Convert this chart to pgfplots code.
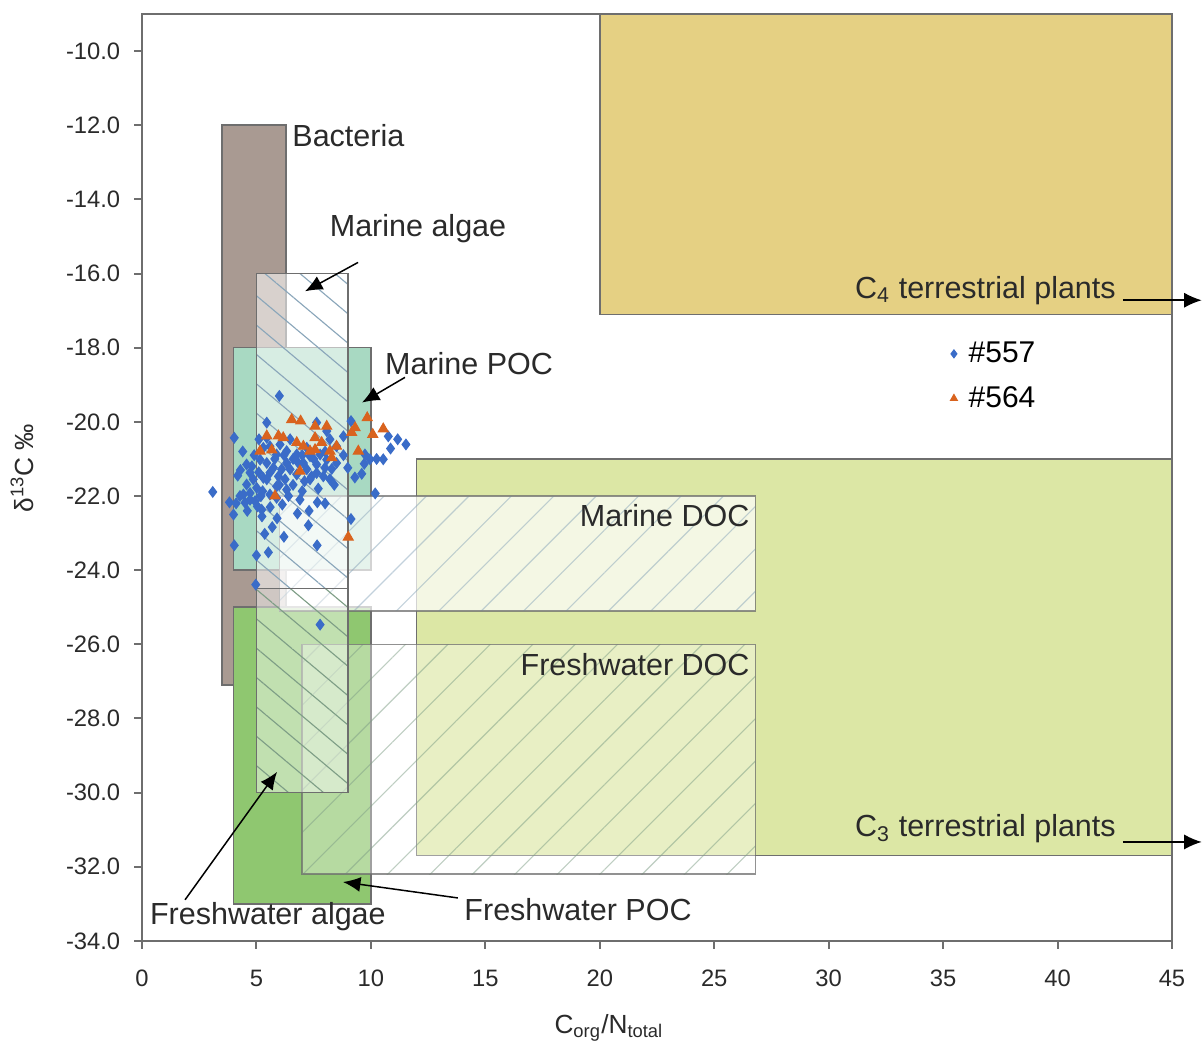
\documentclass[border=0pt]{standalone}
\usepackage{fontspec}
\setmainfont{Liberation Sans}
\usepackage{pgfplots}
\pgfplotsset{compat=1.18}
\usetikzlibrary{patterns.meta,arrows.meta}

\definecolor{cfour}{HTML}{E5D083}
\definecolor{cthree}{HTML}{DCE7A5}
\definecolor{bact}{HTML}{A99A92}
\definecolor{mpoc}{HTML}{A8D9C2}
\definecolor{fpoc}{HTML}{8FC770}
\definecolor{hatchblue}{HTML}{8AA6BA}
\definecolor{hatchgreen}{HTML}{7E9E86}
\definecolor{bluept}{HTML}{3A6CC8}
\definecolor{orangept}{HTML}{D9631E}
\definecolor{edge}{HTML}{6E6E6E}
\definecolor{txt}{HTML}{2A2A2A}

\pgfplotsset{box/.style={draw=edge, line width=0.6pt, forget plot}}
\tikzset{
  lab/.style={font=\fontsize{12.2}{14}\selectfont, text=txt, inner sep=0pt},
  pointer/.style={draw=black, line width=0.6pt, -{Latex[length=7pt,width=6pt]}},
}

\begin{document}
\begin{tikzpicture}
\begin{axis}[
  scale only axis, width=412pt, height=370.8pt,
  xmin=0, xmax=45, ymin=-34, ymax=-9,
  xtick={0,5,...,45}, ytick={-34,-32,...,-10},
  yticklabel style={xshift=-2pt, /pgf/number format/.cd, fixed, fixed zerofill, precision=1},
  /pgf/number format/assume math mode=true,
  tick align=outside, xtick pos=bottom, ytick pos=left,
  major tick length=3.2pt,
  tick style={draw=edge, line width=0.8pt},
  axis line style={draw=edge, line width=1.1pt},
  ticklabel style={font=\fontsize{9.5}{11}\selectfont, text=txt},
  xticklabel style={yshift=-5pt},
  xlabel={C\textsubscript{org}/N\textsubscript{total}},
  ylabel={δ\textsuperscript{13}C ‰},
  xlabel style={font=\fontsize{10.5}{12}\selectfont, text=txt, at={(rel axis cs:0.4534,-0.0939)}, anchor=center},
  ylabel style={font=\fontsize{10.5}{12}\selectfont, text=txt, at={(rel axis cs:-0.1165,0.51)}, anchor=center},
  clip=false,
  legend style={at={(axis cs:35.3,-17.69)}, anchor=north west, draw=none, fill=none,
    font=\fontsize{12}{14}\selectfont, row sep=4pt, column sep=2.5pt, inner sep=0pt},
  legend cell align=left,
  legend image post style={mark size=1.6pt},
]
% overall extent of the figure
\path (rel axis cs:-0.1379,-0.1133) rectangle (rel axis cs:1.0311,1.0151);

% terrestrial plants
\addplot[box, fill=cfour] coordinates {(20,-17.1) (45,-17.1) (45,-9) (20,-9)} -- cycle;
\addplot[box, fill=cthree] coordinates {(12,-31.7) (45,-31.7) (45,-21) (12,-21)} -- cycle;

% bacteria
\addplot[box, fill=bact] coordinates {(3.5,-27.1) (6.3,-27.1) (6.3,-12) (3.5,-12)} -- cycle;

% particulate organic carbon
\addplot[box, fill=mpoc] coordinates {(4,-24) (10,-24) (10,-18) (4,-18)} -- cycle;
\addplot[box, fill=fpoc] coordinates {(4,-33) (10,-33) (10,-25) (4,-25)} -- cycle;

% dissolved organic carbon
\addplot[box, draw opacity=0.5, fill=white, fill opacity=0.35,
  postaction={fill opacity=0.8, pattern={Lines[angle=45,distance=12pt,line width=0.45pt]}, pattern color=hatchgreen}]
  coordinates {(7,-32.2) (26.8,-32.2) (26.8,-26) (7,-26)} -- cycle;
\addplot[box, draw opacity=0.5, fill=white, fill opacity=0.7,
  postaction={fill opacity=0.8, pattern={Lines[angle=45,distance=12pt,line width=0.45pt]}, pattern color=hatchblue}]
  coordinates {(6,-25.1) (26.8,-25.1) (26.8,-22) (6,-22)} -- cycle;

% algae
\addplot[box, fill=white, fill opacity=0.55,
  postaction={fill opacity=0.8, pattern={Lines[angle=-40,distance=9pt,line width=0.45pt]}, pattern color=hatchblue}]
  coordinates {(5,-24.5) (9,-24.5) (9,-16) (5,-16)} -- cycle;
\addplot[box, fill=white, fill opacity=0.45,
  postaction={fill opacity=0.8, pattern={Lines[angle=-40,distance=9pt,line width=0.45pt]}, pattern color=hatchgreen}]
  coordinates {(5,-30) (9,-30) (9,-24.5) (5,-24.5)} -- cycle;

% samples
\addplot[only marks, mark=diamond*, mark size=2.1pt, color=bluept, mark options={draw=bluept, fill=bluept}] coordinates {
(6.0,-19.3) (5.45,-20.02) (4.03,-20.43) (5.11,-20.47) (7.63,-20.02) (9.13,-19.98)
(8.8,-20.39) (10.76,-20.39) (11.17,-20.47) (11.53,-20.61) (10.86,-20.72) (10.25,-21.0)
(10.54,-21.01) (9.71,-21.13) (8.99,-21.24) (3.09,-21.89) (10.19,-21.93) (3.82,-22.17)
(4.11,-22.2) (7.0,-21.87) (7.66,-22.17) (6.13,-22.23) (5.24,-22.55) (6.79,-22.47)
(5.69,-22.84) (7.27,-22.79) (9.13,-22.62) (5.36,-23.02) (4.03,-23.33) (5.52,-23.52)
(7.65,-23.33) (4.97,-24.39) (7.78,-25.47) (4.18,-21.45) (4.57,-21.15) (5.1,-21.36)
(4.57,-21.69) (5.01,-21.78) (4.43,-21.96) (4.72,-22.1) (5.04,-22.28) (5.27,-21.87)
(5.59,-21.96) (5.88,-21.74) (6.25,-21.55) (6.76,-21.42) (7.41,-21.47) (7.92,-21.47)
(8.29,-21.27) (6.32,-21.11) (5.74,-21.24) (5.45,-21.11) (5.16,-21.02) (7.05,-21.11)
(7.63,-21.15) (8.07,-21.02) (6.32,-20.79) (6.76,-20.88) (7.34,-20.93) (5.88,-20.88)
(5.59,-20.66) (6.03,-20.61) (7.2,-20.7) (8.21,-20.47) (8.5,-20.66) (6.47,-20.47)
(5.96,-21.47) (5.45,-21.55) (6.32,-21.83) (5.88,-22.05) (7.63,-21.38) (8.5,-21.11)
(9.74,-20.88) (9.96,-21.01) (8.21,-21.55) (5.3,-21.51) (6.47,-21.28) (7.2,-21.28)
(4.86,-21.55) (4.72,-21.37) (4.5,-22.18) (4.94,-22.14) (5.23,-22.37) (8.07,-20.25)
(5.45,-20.43) (6.83,-21.11) (7.78,-20.88) (6.1,-21.28) (7.34,-21.55) (5.59,-21.37)
(7.99,-21.24) (4.72,-21.92) (4.28,-22.0) (5.16,-22.0)
(4.9,-20.9) (5.3,-20.7) (5.8,-21.0) (6.2,-20.9) (6.6,-21.0) (7.0,-20.9)
(7.5,-21.0) (8.0,-20.8) (6.0,-21.7) (6.6,-21.7) (7.1,-21.6) (5.2,-22.0)
(5.6,-22.3) (4.6,-22.4) (4.3,-21.3) (4.8,-21.2) (6.9,-22.1) (7.7,-21.8)
(8.4,-21.7) (9.3,-21.5) (8.8,-20.9) (9.6,-21.4) (4.0,-22.5) (5.9,-22.6)
(6.4,-22.0) (7.3,-22.4) (8.0,-22.2) (5.0,-23.6) (6.2,-23.1) (4.4,-20.8)
};
\addlegendentry{\#557}
\addplot[only marks, mark=triangle*, mark size=2.3pt, color=orangept, mark options={draw=orangept, fill=orangept}] coordinates {
(6.54,-19.94) (6.93,-19.98) (7.56,-20.12) (8.07,-20.12) (9.84,-19.89) (10.54,-20.19)
(9.31,-20.16) (9.16,-20.29) (10.08,-20.34) (5.45,-20.38) (5.96,-20.38) (6.17,-20.43)
(7.56,-20.43) (5.16,-20.79) (5.67,-20.76) (6.76,-20.56) (7.05,-20.66) (7.56,-20.75)
(8.21,-20.79) (8.5,-20.66) (8.29,-20.97) (9.45,-20.79) (6.9,-21.33) (5.81,-22.0)
(9.01,-23.11) (7.34,-20.79) (7.85,-20.56)
};
\addlegendentry{\#564}

% labels and pointers
\node[lab, anchor=west] at (axis cs:6.55,-12.27) {Bacteria};
\node[lab] at (axis cs:12.06,-14.78) {Marine algae};
\draw[pointer] (axis cs:9.44,-15.70) -- (axis cs:7.12,-16.48);
\node[lab] at (axis cs:14.29,-18.42) {Marine POC};
\draw[pointer] (axis cs:11.49,-18.80) -- (axis cs:9.61,-19.48);
\node[lab, anchor=east] at (axis cs:26.56,-22.53) {Marine DOC};
\node[lab, anchor=east] at (axis cs:26.56,-26.55) {Freshwater DOC};
\node[lab] at (axis cs:36.85,-16.45) {C\textsubscript{4} terrestrial plants};
\draw[pointer] (axis cs:42.85,-16.72) -- (axis cs:46.3,-16.72);
\node[lab] at (axis cs:36.85,-30.98) {C\textsubscript{3} terrestrial plants};
\draw[pointer] (axis cs:42.85,-31.33) -- (axis cs:46.3,-31.33);
\node[lab] at (axis cs:5.5,-33.35) {Freshwater algae};
\draw[pointer] (axis cs:1.88,-32.89) -- (axis cs:5.9,-29.44);
\node[lab] at (axis cs:19.05,-33.16) {Freshwater POC};
\draw[pointer] (axis cs:13.8,-32.84) -- (axis cs:8.78,-32.41);
\end{axis}
\end{tikzpicture}
\end{document}
